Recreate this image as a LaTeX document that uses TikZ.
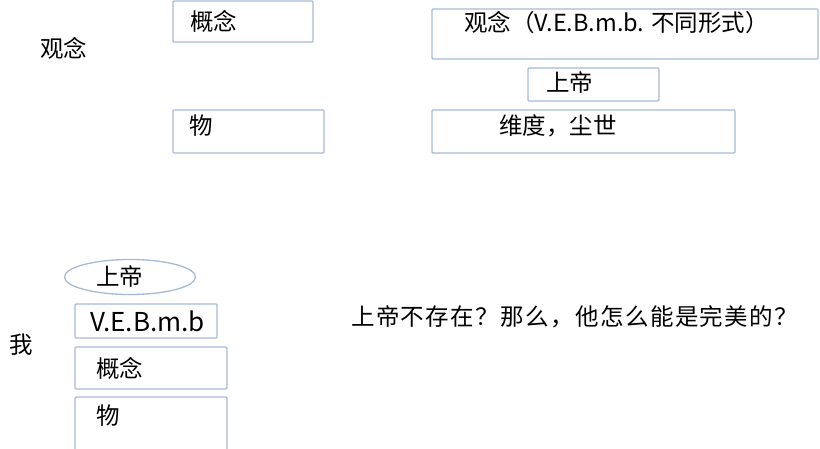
\documentclass[tikz,border=0pt]{standalone}
\usepackage{fontspec}
\setmainfont{Noto Sans CJK SC}
\usetikzlibrary{shapes.geometric}
\definecolor{boxblue}{RGB}{165,185,218}
\tikzstyle{box}=[rectangle, draw=boxblue, line width=1.3pt, rounded corners=1pt, inner sep=0pt]
\tikzstyle{oval}=[ellipse, draw=boxblue, line width=1.3pt, inner sep=0pt]
\tikzstyle{txt}=[anchor=west, inner sep=0pt, font=\fontsize{23.5}{28}\selectfont]
\tikzstyle{lat}=[anchor=west, inner sep=0pt, font=\fontsize{26}{30}\selectfont]

\begin{document}
\begin{tikzpicture}[x=1pt, y=-1pt]
    \useasboundingbox (0,0) rectangle (820,448);
    % upper half
    \node[box, minimum width=140pt, minimum height=41pt] (gaiA) at (243,21.5) {};
    \node[box, minimum width=151pt, minimum height=43pt] (wuA) at (248.5,131.5) {};
    \node[box, minimum width=386pt, minimum height=50pt] (guanB) at (625,34) {};
    \node[box, minimum width=131pt, minimum height=33pt] (shangB) at (593.5,84.5) {};
    \node[box, minimum width=303pt, minimum height=43pt] (weiB) at (583.5,131.5) {};
    \node[txt] (guanL) at (40,48) {观念};
    \node[txt] (gaiAt) at (190,21) {概念};
    \node[txt] (wuAt) at (189,126) {物};
    \node[txt] (guanBt) at (464,23) {观念（V.E.B.m.b. 不同形式）};
    \node[txt] (shangBt) at (546,82) {上帝};
    \node[txt] (weiBt) at (499,126) {维度，尘世};
    % lower half
    \node[oval, minimum width=131pt, minimum height=35pt] (shangC) at (130,277) {};
    \node[box, minimum width=142pt, minimum height=34pt] (vebC) at (146,321) {};
    \node[box, minimum width=152pt, minimum height=42pt] (gaiC) at (151,368) {};
    \node[box, minimum width=152pt, minimum height=63pt] (wuC) at (151,428.5) {};
    \node[txt] (shangCt) at (96,276) {上帝};
    \node[lat] (vebCt) at (90,321) {V.E.B.m.b};
    \node[txt] (gaiCt) at (96,368) {概念};
    \node[txt] (wuCt) at (96,416) {物};
    \node[txt] (woL) at (9,345) {我};
    \node[txt, font=\fontsize{23.5}{28}\selectfont\addfontfeature{LetterSpace=6}] (ques) at (351,317) {上帝不存在？那么，他怎么能是完美的？};
\end{tikzpicture}
\end{document}
